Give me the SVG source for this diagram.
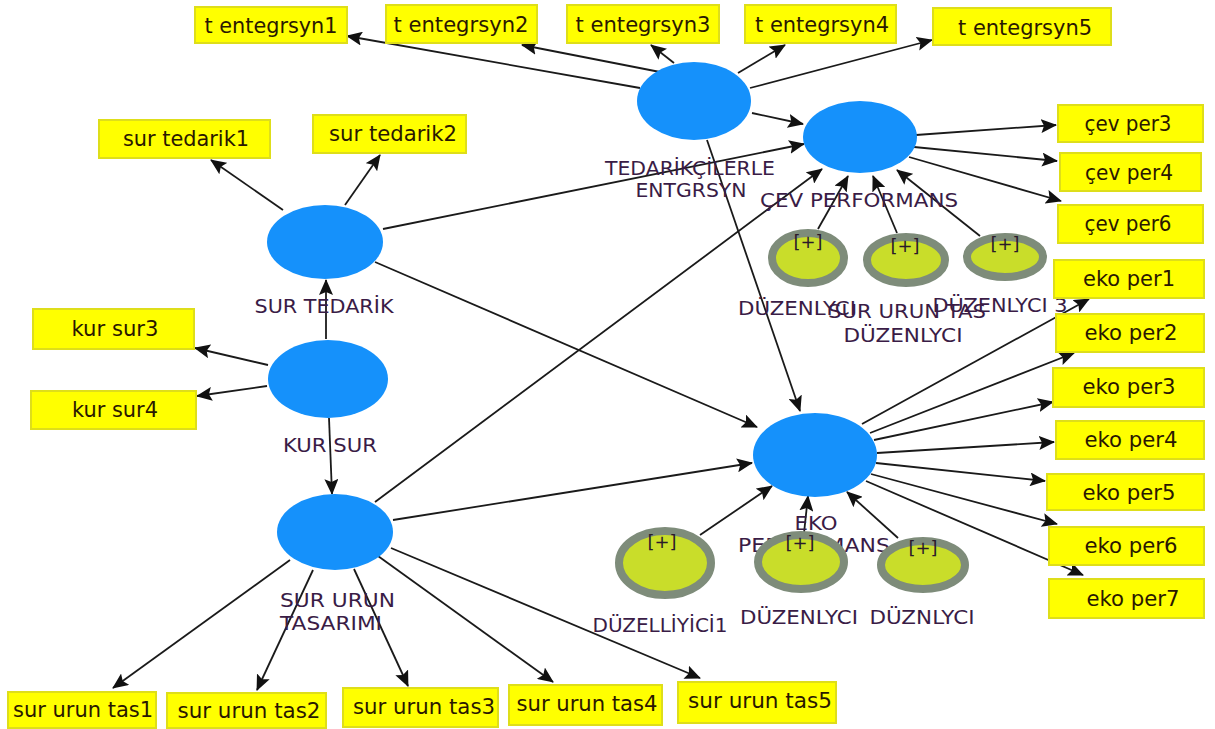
<svg xmlns="http://www.w3.org/2000/svg" width="1215" height="729" viewBox="0 0 1215 729">
  <style>
    .lv { fill: #1591fb; }
    .ind rect { fill: #ffff00; stroke: #dede1a; stroke-width: 2; }
    .ind text { font-family: "DejaVu Sans", "Verdana", sans-serif; font-size: 21px; fill: #2a1800; text-anchor: middle; }
    .lbl { font-family: "DejaVu Sans", "Verdana", sans-serif; font-size: 19px; fill: #3a1c46; text-anchor: middle; }
    .mod .ring { fill: #c9dd2a; stroke: #7e8c7a; stroke-width: 8; }
    .mod text { font-family: "DejaVu Sans", "Verdana", sans-serif; font-size: 18px; fill: #2a1a2a; text-anchor: middle; }
    .edges line { stroke: #1a1a1a; stroke-width: 1.8; marker-end: url(#arr); }
  </style>
  <defs>
    <marker id="arr" viewBox="0 0 16 14" refX="15" refY="7" markerWidth="16" markerHeight="14" orient="auto" markerUnits="userSpaceOnUse">
      <path d="M0,0 L16,7 L0,14 L3,7 z" fill="#111"/>
    </marker>
  </defs>
  <rect width="1215" height="729" fill="#ffffff"/>

  <!-- paths between constructs and to their indicators -->
  <g id="connectors" class="edges">
    <!-- TEDARİKÇİLERLE ENTGRSYN -->
    <line x1="640" y1="88" x2="347" y2="36"/>
    <line x1="660" y1="72" x2="522" y2="45"/>
    <line x1="674" y1="63" x2="651" y2="45"/>
    <line x1="738" y1="73" x2="785" y2="45"/>
    <line x1="750" y1="88" x2="932" y2="40"/>
    <line x1="752" y1="113" x2="803" y2="124"/>
    <line x1="707" y1="140" x2="800" y2="411"/>
    <!-- ÇEV PERFORMANS -->
    <line x1="916" y1="135" x2="1056" y2="125"/>
    <line x1="914" y1="147" x2="1057" y2="161"/>
    <line x1="909" y1="157" x2="1061" y2="201"/>
    <!-- SUR TEDARİK -->
    <line x1="283" y1="210" x2="211" y2="160"/>
    <line x1="345" y1="205" x2="380" y2="155"/>
    <line x1="383" y1="229" x2="804" y2="144"/>
    <line x1="375" y1="262" x2="757" y2="427"/>
    <!-- KUR SUR -->
    <line x1="326" y1="339" x2="326" y2="280"/>
    <line x1="268" y1="365" x2="195" y2="348"/>
    <line x1="267" y1="386" x2="197" y2="396"/>
    <line x1="329" y1="418" x2="332" y2="494"/>
    <!-- SUR URUN TASARIMI -->
    <line x1="375" y1="502" x2="822" y2="169"/>
    <line x1="393" y1="520" x2="752" y2="463"/>
    <line x1="290" y1="560" x2="113" y2="688"/>
    <line x1="313" y1="570" x2="257" y2="690"/>
    <line x1="354" y1="569" x2="408" y2="686"/>
    <line x1="378" y1="556" x2="553" y2="682"/>
    <line x1="391" y1="548" x2="700" y2="678"/>
    <!-- EKO PERFORMANS -->
    <line x1="862" y1="424" x2="1089" y2="299"/>
    <line x1="870" y1="433" x2="1074" y2="353"/>
    <line x1="874" y1="440" x2="1053" y2="402"/>
    <line x1="877" y1="453" x2="1054" y2="442"/>
    <line x1="876" y1="463" x2="1045" y2="481"/>
    <line x1="871" y1="474" x2="1057" y2="524"/>
    <line x1="866" y1="481" x2="1083" y2="575"/>
    <!-- moderating effects -->
    <line x1="818" y1="229" x2="848" y2="176"/>
    <line x1="897" y1="233" x2="873" y2="176"/>
    <line x1="980" y1="236" x2="897" y2="170"/>
    <line x1="700" y1="535" x2="772" y2="486"/>
    <line x1="804" y1="533" x2="808" y2="496"/>
    <line x1="898" y1="538" x2="847" y2="492"/>
  </g>

  <!-- latent constructs -->
  <g id="tedarikciler-entgrsyn">
    <ellipse class="lv" cx="694" cy="101" rx="57" ry="39"/>
    <text class="lbl" x="690" y="175" textLength="170" lengthAdjust="spacingAndGlyphs">TEDARİKÇİLERLE</text>
    <text class="lbl" x="691" y="197" textLength="111" lengthAdjust="spacingAndGlyphs">ENTGRSYN</text>
  </g>
  <g id="cev-performans">
    <ellipse class="lv" cx="860" cy="137" rx="57" ry="36"/>
    <text class="lbl" x="859" y="207" textLength="198" lengthAdjust="spacingAndGlyphs">ÇEV PERFORMANS</text>
  </g>
  <g id="sur-tedarik">
    <ellipse class="lv" cx="325" cy="242" rx="58" ry="37"/>
    <text class="lbl" x="324" y="313" textLength="139" lengthAdjust="spacingAndGlyphs">SUR TEDARİK</text>
  </g>
  <g id="kur-sur">
    <ellipse class="lv" cx="328" cy="379" rx="60" ry="39"/>
    <text class="lbl" x="330" y="452" textLength="94" lengthAdjust="spacingAndGlyphs">KUR SUR</text>
  </g>
  <g id="sur-urun-tasarimi">
    <ellipse class="lv" cx="335" cy="532" rx="58" ry="38"/>
    <text class="lbl" x="280" y="607" style="text-anchor:start" textLength="115" lengthAdjust="spacingAndGlyphs">SUR URUN</text>
    <text class="lbl" x="280" y="630" style="text-anchor:start" textLength="102" lengthAdjust="spacingAndGlyphs">TASARIMI</text>
  </g>
  <g id="eko-performans">
    <ellipse class="lv" cx="815" cy="455" rx="62" ry="42"/>
    <text class="lbl" x="816" y="530" textLength="43" lengthAdjust="spacingAndGlyphs">EKO</text>
    <text class="lbl" x="814" y="552" textLength="152" lengthAdjust="spacingAndGlyphs">PERFORMANS</text>
  </g>

  <!-- moderator labels -->
  <g id="moderator-labels">
    <text class="lbl" x="797" y="315" textLength="118" lengthAdjust="spacingAndGlyphs">DÜZENLYCI</text>
    <text class="lbl" x="907" y="318" textLength="158" lengthAdjust="spacingAndGlyphs">SUR URUN TAS</text>
    <text class="lbl" x="903" y="342" textLength="119" lengthAdjust="spacingAndGlyphs">DÜZENLYCI</text>
    <text class="lbl" x="1000" y="312" textLength="135" lengthAdjust="spacingAndGlyphs">DÜZENLYCI 3</text>
    <text class="lbl" x="660" y="632" textLength="135" lengthAdjust="spacingAndGlyphs">DÜZELLİYİCİ1</text>
    <text class="lbl" x="799" y="624" textLength="118" lengthAdjust="spacingAndGlyphs">DÜZENLYCI</text>
    <text class="lbl" x="922" y="624" textLength="105" lengthAdjust="spacingAndGlyphs">DÜZNLYCI</text>
  </g>

  <!-- moderators -->
  <g id="mod-1" class="mod">
    <ellipse class="ring" cx="808" cy="258" rx="36" ry="25"/>
    <text x="808" y="248">[+]</text>
  </g>
  <g id="mod-2" class="mod">
    <ellipse class="ring" cx="906" cy="260" rx="39" ry="23"/>
    <text x="905" y="252">[+]</text>
  </g>
  <g id="mod-3" class="mod">
    <ellipse class="ring" cx="1005" cy="257" rx="38" ry="20"/>
    <text x="1005" y="250">[+]</text>
  </g>
  <g id="mod-4" class="mod">
    <ellipse class="ring" cx="665" cy="563" rx="46" ry="32"/>
    <text x="662" y="548">[+]</text>
  </g>
  <g id="mod-5" class="mod">
    <ellipse class="ring" cx="801" cy="562" rx="43" ry="27"/>
    <text x="800" y="549">[+]</text>
  </g>
  <g id="mod-6" class="mod">
    <ellipse class="ring" cx="923" cy="565" rx="42" ry="24"/>
    <text x="923" y="554">[+]</text>
  </g>

  <!-- indicators -->
  <g id="t-entegrsyn1" class="ind"><rect x="195" y="7" width="152" height="36"/><text x="271" y="33" textLength="133" lengthAdjust="spacingAndGlyphs">t entegrsyn1</text></g>
  <g id="t-entegrsyn2" class="ind"><rect x="386" y="5" width="151" height="38"/><text x="461" y="32" textLength="135" lengthAdjust="spacingAndGlyphs">t entegrsyn2</text></g>
  <g id="t-entegrsyn3" class="ind"><rect x="567" y="5" width="152" height="38"/><text x="643" y="32" textLength="135" lengthAdjust="spacingAndGlyphs">t entegrsyn3</text></g>
  <g id="t-entegrsyn4" class="ind"><rect x="745" y="5" width="151" height="38"/><text x="822" y="32" textLength="134" lengthAdjust="spacingAndGlyphs">t entegrsyn4</text></g>
  <g id="t-entegrsyn5" class="ind"><rect x="933" y="8" width="178" height="37"/><text x="1025" y="35" textLength="134" lengthAdjust="spacingAndGlyphs">t entegrsyn5</text></g>

  <g id="cev-per3" class="ind"><rect x="1058" y="105" width="145" height="37"/><text x="1128" y="131" textLength="87" lengthAdjust="spacingAndGlyphs">çev per3</text></g>
  <g id="cev-per4" class="ind"><rect x="1060" y="153" width="141" height="38"/><text x="1129" y="180" textLength="88" lengthAdjust="spacingAndGlyphs">çev per4</text></g>
  <g id="cev-per6" class="ind"><rect x="1058" y="205" width="145" height="38"/><text x="1128" y="231" textLength="87" lengthAdjust="spacingAndGlyphs">çev per6</text></g>

  <g id="eko-per1" class="ind"><rect x="1054" y="260" width="150" height="38"/><text x="1129" y="286" textLength="92" lengthAdjust="spacingAndGlyphs">eko per1</text></g>
  <g id="eko-per2" class="ind"><rect x="1056" y="314" width="148" height="38"/><text x="1131" y="340" textLength="93" lengthAdjust="spacingAndGlyphs">eko per2</text></g>
  <g id="eko-per3" class="ind"><rect x="1053" y="368" width="151" height="39"/><text x="1129" y="394" textLength="93" lengthAdjust="spacingAndGlyphs">eko per3</text></g>
  <g id="eko-per4" class="ind"><rect x="1056" y="421" width="148" height="38"/><text x="1131" y="447" textLength="93" lengthAdjust="spacingAndGlyphs">eko per4</text></g>
  <g id="eko-per5" class="ind"><rect x="1047" y="474" width="157" height="36"/><text x="1129" y="500" textLength="93" lengthAdjust="spacingAndGlyphs">eko per5</text></g>
  <g id="eko-per6" class="ind"><rect x="1049" y="527" width="155" height="38"/><text x="1131" y="553" textLength="93" lengthAdjust="spacingAndGlyphs">eko per6</text></g>
  <g id="eko-per7" class="ind"><rect x="1049" y="579" width="155" height="39"/><text x="1133" y="606" textLength="93" lengthAdjust="spacingAndGlyphs">eko per7</text></g>

  <g id="sur-tedarik1" class="ind"><rect x="99" y="120" width="171" height="38"/><text x="186" y="146" textLength="126" lengthAdjust="spacingAndGlyphs">sur tedarik1</text></g>
  <g id="sur-tedarik2" class="ind"><rect x="313" y="115" width="153" height="38"/><text x="393" y="141" textLength="128" lengthAdjust="spacingAndGlyphs">sur tedarik2</text></g>
  <g id="kur-sur3" class="ind"><rect x="33" y="309" width="161" height="40"/><text x="115" y="336" textLength="87" lengthAdjust="spacingAndGlyphs">kur sur3</text></g>
  <g id="kur-sur4" class="ind"><rect x="31" y="391" width="165" height="38"/><text x="115" y="417" textLength="86" lengthAdjust="spacingAndGlyphs">kur sur4</text></g>

  <g id="sur-urun-tas1" class="ind"><rect x="8" y="692" width="148" height="36"/><text x="83" y="717" textLength="140" lengthAdjust="spacingAndGlyphs">sur urun tas1</text></g>
  <g id="sur-urun-tas2" class="ind"><rect x="167" y="693" width="159" height="35"/><text x="249" y="718" textLength="143" lengthAdjust="spacingAndGlyphs">sur urun tas2</text></g>
  <g id="sur-urun-tas3" class="ind"><rect x="343" y="688" width="155" height="39"/><text x="424" y="714" textLength="142" lengthAdjust="spacingAndGlyphs">sur urun tas3</text></g>
  <g id="sur-urun-tas4" class="ind"><rect x="509" y="685" width="153" height="40"/><text x="587" y="711" textLength="141" lengthAdjust="spacingAndGlyphs">sur urun tas4</text></g>
  <g id="sur-urun-tas5" class="ind"><rect x="678" y="682" width="158" height="41"/><text x="760" y="708" textLength="144" lengthAdjust="spacingAndGlyphs">sur urun tas5</text></g>
</svg>
